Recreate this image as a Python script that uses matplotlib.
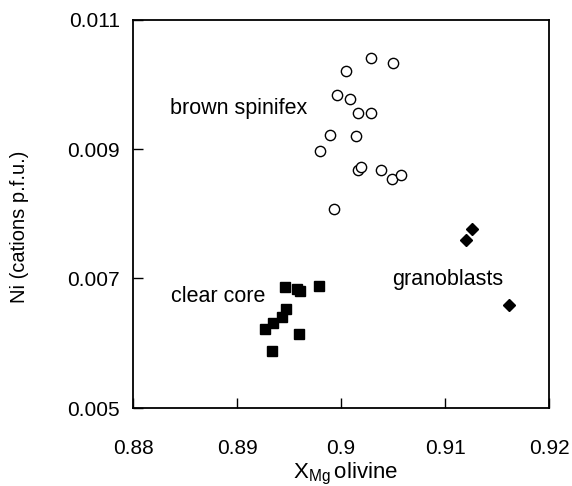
import matplotlib
matplotlib.use("Agg")
import matplotlib.pyplot as plt

plt.rcParams['font.family'] = ['Liberation Sans', 'DejaVu Sans']

# brown spinifex (open circles)
spin_x = [0.90284, 0.90496, 0.90047, 0.89963, 0.90082, 0.90168, 0.90289, 0.89896,
          0.90146, 0.89800, 0.90168, 0.90194, 0.90383, 0.90486, 0.90573, 0.89937]
spin_y = [0.010407, 0.010335, 0.010206, 0.009840, 0.009779, 0.009562, 0.009552, 0.009217,
          0.009202, 0.008975, 0.008677, 0.008728, 0.008682, 0.008532, 0.008605, 0.008069]

# clear core (filled squares)
core_x = [0.89463, 0.89580, 0.89606, 0.89793, 0.89469, 0.89437, 0.89350, 0.89273, 0.89597, 0.89341]
core_y = [0.006864, 0.006840, 0.006810, 0.006885, 0.006535, 0.006406, 0.006318, 0.006215, 0.006148, 0.005886]

# granoblasts (filled diamonds)
gran_x = [0.91256, 0.91204, 0.91618]
gran_y = [0.007760, 0.007595, 0.006596]

xticks = [0.88, 0.89, 0.9, 0.91, 0.92]
xticklabels = ['0.88', '0.89', '0.9', '0.91', '0.92']
yticks = [0.005, 0.007, 0.009, 0.011]
yticklabels = ['0.005', '0.007', '0.009', '0.011']

FS = 15
FS_ANN = 15.5

fig = plt.figure(figsize=(5.72, 4.86), dpi=100)
ax = fig.add_axes([133/572, 1 - 408/486, (549-133)/572, (408-19.5)/486])

ax.plot(spin_x, spin_y, linestyle='none', marker='o', markersize=7.4,
        markerfacecolor='white', markeredgecolor='black', markeredgewidth=1.0)
ax.plot(core_x, core_y, linestyle='none', marker='s', markersize=7.8,
        markerfacecolor='black', markeredgecolor='black')
ax.plot(gran_x, gran_y, linestyle='none', marker='D', markersize=6.0,
        markerfacecolor='black', markeredgecolor='black')

ax.text(0.88353, 0.009624, 'brown spinifex', fontsize=FS_ANN, va='center', ha='left')
ax.text(0.88369, 0.006715, 'clear core', fontsize=FS_ANN, va='center', ha='left')
ax.text(0.90496, 0.006982, 'granoblasts', fontsize=FS_ANN, va='center', ha='left')

ax.set_xlim(0.88, 0.92)
ax.set_ylim(0.005, 0.011)
ax.set_xticks(xticks)
ax.set_xticklabels(xticklabels)
ax.set_yticks(yticks)
ax.set_yticklabels(yticklabels)
ax.tick_params(axis='both', direction='in', length=7.5, width=1.0, labelsize=FS,
               top=False, right=False)
ax.tick_params(axis='x', pad=22)
ax.tick_params(axis='y', pad=9.5)
for s in ax.spines.values():
    s.set_linewidth(1.3)

fig.text(20/572, 1 - 227/486, 'Ni (cations p.f.u.)', rotation=90, fontsize=14.5,
         ha='center', va='center')
fig.text(293/572, 1 - 478/486, r'X$_{\mathregular{Mg}}\,$olivine', fontsize=16,
         ha='left', va='baseline')

fig.savefig('out.png', dpi=100)
